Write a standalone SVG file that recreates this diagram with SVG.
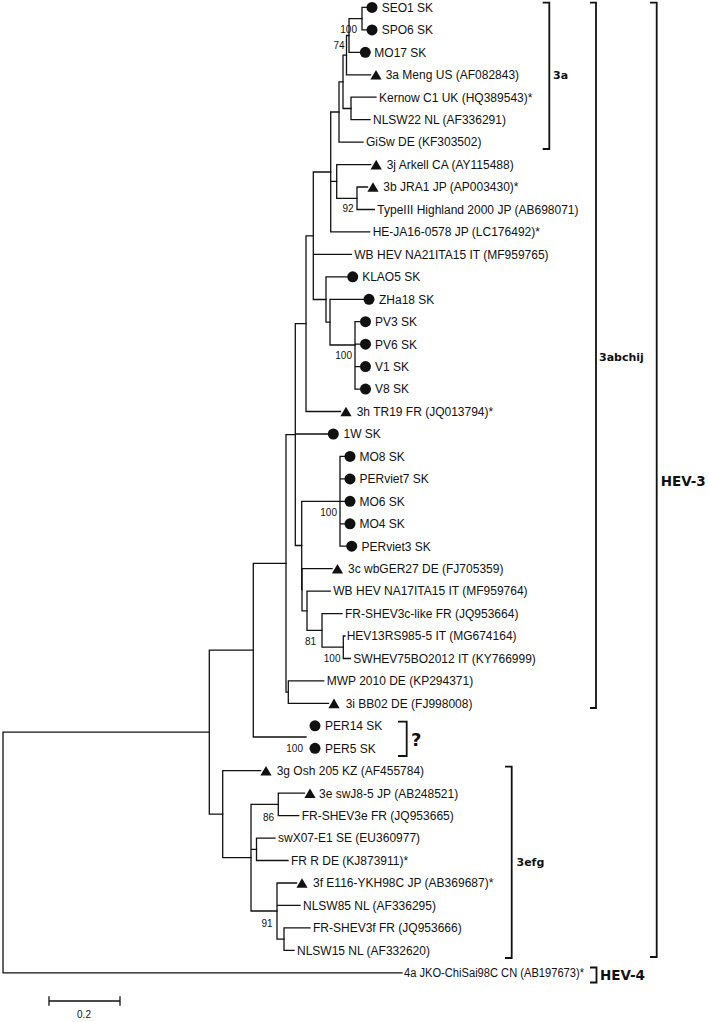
<svg xmlns="http://www.w3.org/2000/svg" width="709" height="1022" viewBox="0 0 709 1022">
<style>
.br{fill:none;stroke:#111;stroke-width:1.3;stroke-linecap:square}
.bk{fill:none;stroke:#111;stroke-width:1.8}
.lf{font-family:"Liberation Sans",Arial,sans-serif;font-size:12px;fill:#111}
.bs{font-family:"Liberation Sans",Arial,sans-serif;font-size:10px;fill:#111;text-anchor:end}
.gp{font-family:"DejaVu Sans",sans-serif;font-weight:bold;font-size:11px;fill:#111}
.gb{font-family:"DejaVu Sans",sans-serif;font-weight:bold;font-size:13.5px;fill:#111}
</style>
<defs>
<circle id="dot" r="5.5" fill="#111"/>
<path id="tri" d="M0,-4.8 L5.6,4.8 L-5.6,4.8 Z" fill="#111"/>
</defs>
<rect width="709" height="1022" fill="#fff"/>
<g id="connectors" class="br">
<path d="M3,732.2 V972.8 M3,732.2 H209.3 M3,972.8 H402"/>
<path d="M209.3,650.2 V814.2 M209.3,650.2 H253.3 M209.3,814.2 H222.7"/>
<path d="M253.3,563.3 V737 M253.3,563.3 H286 M253.3,737 H306"/>
<path d="M286,434.6 V692.1 M286,434.6 H295.3 M286,692.1 H288.3"/>
<path d="M288.3,680.9 V703.4 M288.3,680.9 H323.7 M288.3,703.4 H328.5"/>
<path d="M295.3,323.6 V545.5 M295.3,323.6 H306 M295.3,434 H327.8 M295.3,545.5 H301.7"/>
<path d="M301.7,501.3 V589.7 M301.7,501.3 H340 M301.7,589.7 H302"/>
<path d="M302,568.7 V610.8 M302,568.7 H332 M302,610.8 H307"/>
<path d="M307,591.1 V630.4 M307,591.1 H330.3 M307,630.4 H322"/>
<path d="M322,613.6 V647.2 M322,613.6 H342 M322,647.2 H343.3"/>
<path d="M343.3,636 V658.5 M343.3,636 H345 M343.3,658.5 H350.3"/>
<path d="M340,456.4 V546.2 M340,456.4 H344.5 M340,478.9 H344.5 M340,501.3 H344.5 M340,523.8 H344.5 M340,546.2 H346.2"/>
<path d="M306,235.8 V411.5 M306,235.8 H313.3 M306,411.5 H340.5"/>
<path d="M313.3,172 V299.5 M313.3,172 H330.7 M313.3,254.4 H351.3 M313.3,299.5 H326"/>
<path d="M326,276.8 V322.2 M326,276.8 H347.2 M326,322.2 H330"/>
<path d="M330,299.3 V345 M330,299.3 H363.5 M330,345 H355"/>
<path d="M355,321.7 V389.1 M355,321.7 H360 M355,344.2 H360 M355,366.6 H360 M355,389.1 H360"/>
<path d="M330.7,112 V231.9 M330.7,112 H339 M330.7,181.4 H336.7 M330.7,231.9 H369.7"/>
<path d="M336.7,164.6 V198.3 M336.7,164.6 H370.7 M336.7,198.3 H357"/>
<path d="M357,187 V209.5 M357,187 H367.5 M357,209.5 H374.3"/>
<path d="M339,81.8 V142.1 M339,81.8 H343 M339,142.1 H363"/>
<path d="M343,55.1 V108.5 M343,55.1 H346.5 M343,108.5 H351"/>
<path d="M351,97.2 V119.7 M351,97.2 H376 M351,119.7 H370"/>
<path d="M346.5,35.5 V74.8 M346.5,35.5 H349 M346.5,74.8 H370.5"/>
<path d="M349,18.6 V52.3 M349,18.6 H362 M349,52.3 H360"/>
<path d="M362,7.4 V29.9 M362,7.4 H366.5 M362,29.9 H366.5"/>
<path d="M222.7,770.7 V857.7 M222.7,770.7 H260.5 M222.7,857.7 H251"/>
<path d="M251,804.4 V911 M251,804.4 H278.3 M251,849.3 H256.5 M251,911 H277"/>
<path d="M278.3,793.2 V815.6 M278.3,793.2 H304.5 M278.3,815.6 H298.7"/>
<path d="M256.5,838.1 V860.5 M256.5,838.1 H275 M256.5,860.5 H288"/>
<path d="M277,883 V939.1 M277,883 H296.5 M277,905.4 H300 M277,939.1 H284"/>
<path d="M284,927.9 V950.3 M284,927.9 H310 M284,950.3 H294"/>
</g>
<g id="bootstrap">
<text class="bs" x="357" y="32.5">100</text>
<text class="bs" x="344.5" y="48.5">74</text>
<text class="bs" x="353.5" y="211.5">92</text>
<text class="bs" x="352" y="358.5">100</text>
<text class="bs" x="337" y="516">100</text>
<text class="bs" x="316" y="645">81</text>
<text class="bs" x="340.5" y="661.5">100</text>
<text class="bs" x="303" y="752">100</text>
<text class="bs" x="274" y="820.5">86</text>
<text class="bs" x="272.5" y="926.5">91</text>
</g>
<g id="leaf-SEO1"><use href="#dot" x="372" y="7.4"/><text class="lf" x="381.7" y="11.7">SEO1 SK</text></g>
<g id="leaf-SPO6"><use href="#dot" x="372" y="29.9"/><text class="lf" x="381.7" y="34.2">SPO6 SK</text></g>
<g id="leaf-MO17"><use href="#dot" x="365.3" y="52.3"/><text class="lf" x="374.3" y="56.6">MO17 SK</text></g>
<g id="leaf-3aMeng"><use href="#tri" x="376" y="74.8"/><text class="lf" x="385.7" y="79.1">3a Meng US (AF082843)</text></g>
<g id="leaf-Kernow"><text class="lf" x="379" y="101.5">Kernow C1 UK (HQ389543)*</text></g>
<g id="leaf-NLSW22"><text class="lf" x="373" y="124">NLSW22 NL (AF336291)</text></g>
<g id="leaf-GiSw"><text class="lf" x="366" y="146.4">GiSw DE (KF303502)</text></g>
<g id="leaf-3jArkell"><use href="#tri" x="376.2" y="164.6"/><text class="lf" x="386.7" y="168.9">3j Arkell CA (AY115488)</text></g>
<g id="leaf-3bJRA1"><use href="#tri" x="373" y="187"/><text class="lf" x="383.3" y="191.3">3b JRA1 JP (AP003430)*</text></g>
<g id="leaf-TypeIII"><text class="lf" x="377.3" y="213.8">TypeIII Highland 2000 JP (AB698071)</text></g>
<g id="leaf-HEJA16"><text class="lf" x="372.7" y="236.2">HE-JA16-0578 JP (LC176492)*</text></g>
<g id="leaf-WBNA21"><text class="lf" x="354.3" y="258.7">WB HEV NA21ITA15 IT (MF959765)</text></g>
<g id="leaf-KLAO5"><use href="#dot" x="352.7" y="276.8"/><text class="lf" x="362.2" y="281.1">KLAO5 SK</text></g>
<g id="leaf-ZHa18"><use href="#dot" x="369" y="299.3"/><text class="lf" x="379" y="303.6">ZHa18 SK</text></g>
<g id="leaf-PV3"><use href="#dot" x="365.5" y="321.7"/><text class="lf" x="375" y="326">PV3 SK</text></g>
<g id="leaf-PV6"><use href="#dot" x="365.5" y="344.2"/><text class="lf" x="375" y="348.5">PV6 SK</text></g>
<g id="leaf-V1"><use href="#dot" x="365.5" y="366.6"/><text class="lf" x="375" y="370.9">V1 SK</text></g>
<g id="leaf-V8"><use href="#dot" x="365.5" y="389.1"/><text class="lf" x="375" y="393.4">V8 SK</text></g>
<g id="leaf-3hTR19"><use href="#tri" x="346" y="411.5"/><text class="lf" x="356.7" y="415.8">3h TR19 FR (JQ013794)*</text></g>
<g id="leaf-1W"><use href="#dot" x="333.3" y="434"/><text class="lf" x="343.5" y="438.3">1W SK</text></g>
<g id="leaf-MO8"><use href="#dot" x="350" y="456.4"/><text class="lf" x="359.5" y="460.7">MO8 SK</text></g>
<g id="leaf-PERviet7"><use href="#dot" x="350" y="478.9"/><text class="lf" x="359.5" y="483.2">PERviet7 SK</text></g>
<g id="leaf-MO6"><use href="#dot" x="350" y="501.3"/><text class="lf" x="359.5" y="505.6">MO6 SK</text></g>
<g id="leaf-MO4"><use href="#dot" x="350" y="523.8"/><text class="lf" x="359.5" y="528.1">MO4 SK</text></g>
<g id="leaf-PERviet3"><use href="#dot" x="351.7" y="546.2"/><text class="lf" x="361.5" y="550.5">PERviet3 SK</text></g>
<g id="leaf-3cwbGER27"><use href="#tri" x="337.5" y="568.7"/><text class="lf" x="348" y="573">3c wbGER27 DE (FJ705359)</text></g>
<g id="leaf-WBNA17"><text class="lf" x="333.3" y="595.4">WB HEV NA17ITA15 IT (MF959764)</text></g>
<g id="leaf-FRSHEV3clike"><text class="lf" x="345" y="617.9">FR-SHEV3c-like FR (JQ953664)</text></g>
<g id="leaf-HEV13"><text class="lf" x="346.7" y="640.3">HEV13RS985-5 IT (MG674164)</text></g>
<g id="leaf-SWHEV75"><text class="lf" x="353.3" y="662.8">SWHEV75BO2012 IT (KY766999)</text></g>
<g id="leaf-MWP2010"><text class="lf" x="326.7" y="685.2">MWP 2010 DE (KP294371)</text></g>
<g id="leaf-3iBB02"><use href="#tri" x="334" y="703.4"/><text class="lf" x="345.7" y="707.7">3i BB02 DE (FJ998008)</text></g>
<g id="leaf-PER14"><use href="#dot" x="315" y="725.8"/><text class="lf" x="325" y="730.1">PER14 SK</text></g>
<g id="leaf-PER5"><use href="#dot" x="315" y="748.3"/><text class="lf" x="325" y="752.6">PER5 SK</text></g>
<g id="leaf-3gOsh"><use href="#tri" x="266" y="770.7"/><text class="lf" x="276.7" y="775">3g Osh 205 KZ (AF455784)</text></g>
<g id="leaf-3eswJ8"><use href="#tri" x="310" y="793.2"/><text class="lf" x="319" y="797.5">3e swJ8-5 JP (AB248521)</text></g>
<g id="leaf-FRSHEV3e"><text class="lf" x="301.7" y="819.9">FR-SHEV3e FR (JQ953665)</text></g>
<g id="leaf-swX07"><text class="lf" x="278" y="842.4">swX07-E1 SE (EU360977)</text></g>
<g id="leaf-FRR"><text class="lf" x="291" y="864.8">FR R DE (KJ873911)*</text></g>
<g id="leaf-3fE116"><use href="#tri" x="302" y="883"/><text class="lf" x="313" y="887.3">3f E116-YKH98C JP (AB369687)*</text></g>
<g id="leaf-NLSW85"><text class="lf" x="303" y="909.7">NLSW85 NL (AF336295)</text></g>
<g id="leaf-FRSHEV3f"><text class="lf" x="313" y="932.2">FR-SHEV3f FR (JQ953666)</text></g>
<g id="leaf-NLSW15"><text class="lf" x="297" y="954.6">NLSW15 NL (AF332620)</text></g>
<g id="leaf-4aJKO"><text class="lf" x="404" y="977.1" textLength="180" lengthAdjust="spacingAndGlyphs">4a JKO-ChiSai98C CN (AB197673)*</text></g>
<g id="clade-3a"><path class="bk" d="M542.7,2.7 H549.3 V149 H542.7"/><text class="gp" x="553" y="79">3a</text></g>
<g id="clade-3abchij"><path class="bk" d="M590,2.7 H596 V708 H590"/><text class="gp" x="599" y="361">3abchij</text></g>
<g id="clade-HEV3"><path class="bk" d="M650,2.7 H656.7 V957 H650"/><text class="gb" x="660.7" y="485.5">HEV-3</text></g>
<g id="clade-unknown"><path class="bk" d="M398,721.7 H406.7 V756 H398"/><text x="411" y="745.5" style="font-family:'DejaVu Sans',sans-serif;font-weight:bold;font-size:18px;fill:#111">?</text></g>
<g id="clade-3efg"><path class="bk" d="M505,766.7 H511.7 V958 H505"/><text class="gp" x="516.5" y="866">3efg</text></g>
<g id="clade-HEV4"><path class="bk" d="M590,967.5 H596.5 V982.5 H590"/><text class="gb" x="600" y="980">HEV-4</text></g>
<g id="scale-bar"><path class="br" d="M49,1001 H120 M49,997 V1005 M120,997 V1005"/><text x="84" y="1018" text-anchor="middle" style="font-family:'Liberation Sans',Arial,sans-serif;font-size:10px;fill:#111">0.2</text></g>
</svg>
